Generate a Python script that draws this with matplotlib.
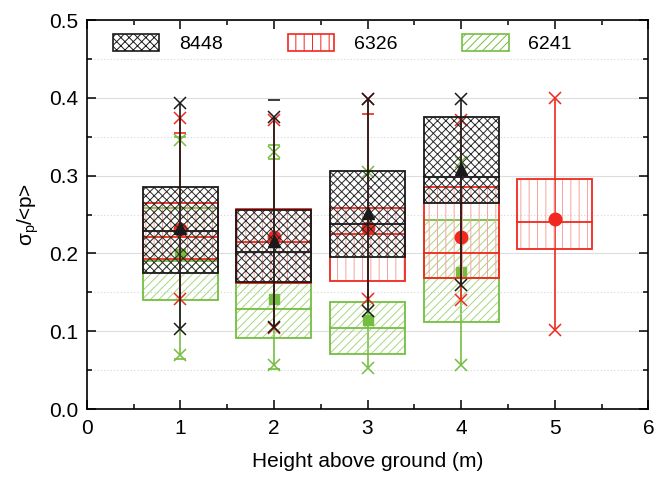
import numpy as np
import matplotlib
matplotlib.use("Agg")
import matplotlib.pyplot as plt
from matplotlib.patches import Rectangle, Patch
from matplotlib.ticker import MultipleLocator

plt.rcParams["font.family"] = ["Liberation Sans", "DejaVu Sans"]
plt.rcParams["mathtext.fontset"] = "custom"
plt.rcParams["mathtext.rm"] = "Liberation Sans"
plt.rcParams["mathtext.it"] = "Liberation Sans"
plt.rcParams["mathtext.bf"] = "Liberation Sans:bold"
plt.rcParams["hatch.linewidth"] = 0.7

# --- data (sigma_p/<p> box stats per height) ---
labels = ["8448", "6326", "6241"]

pos_8448 = [1, 2, 3, 4]
q1_8448 = [0.175, 0.163, 0.195, 0.265]
med_8448 = [0.229, 0.202, 0.238, 0.298]
q3_8448 = [0.286, 0.256, 0.306, 0.375]
mean_8448 = [0.233, 0.216, 0.252, 0.308]
lo_8448 = [0.103, 0.106, 0.126, 0.160]
hi_8448 = [0.394, 0.376, 0.399, 0.399]
dash_x_8448 = [2]
dash_y_8448 = [0.397]

pos_6326 = [1, 2, 3, 4, 5]
q1_6326 = [0.193, 0.162, 0.164, 0.169, 0.206]
med_6326 = [0.221, 0.215, 0.225, 0.200, 0.241]
q3_6326 = [0.265, 0.257, 0.259, 0.286, 0.296]
mean_6326 = [0.232, 0.221, 0.233, 0.221, 0.244]
lo_6326 = [0.141, 0.104, 0.142, 0.140, 0.102]
hi_6326 = [0.374, 0.372, 0.399, 0.372, 0.400]
dash_x_6326 = [1, 3]
dash_y_6326 = [0.355, 0.379]

pos_6241 = [1, 2, 3, 4]
q1_6241 = [0.140, 0.091, 0.071, 0.112]
med_6241 = [0.190, 0.128, 0.104, 0.169]
q3_6241 = [0.259, 0.162, 0.137, 0.243]
mean_6241 = [0.199, 0.142, 0.115, 0.176]
lo_6241 = [0.070, 0.057, 0.053, 0.057]
hi_6241 = [0.346, 0.331, 0.305, 0.317]
dash_x_6241 = [1, 1, 2, 2, 2]
dash_y_6241 = [0.350, 0.065, 0.340, 0.322, 0.051]

series = [
    dict(pos=pos_6241, q1=q1_6241, med=med_6241, q3=q3_6241, mean=mean_6241,
         lo=lo_6241, hi=hi_6241, dx=dash_x_6241, dy=dash_y_6241,
         color="#74BE3F", hcolor="#A6D67F", hatch="////", marker="s", ms=7, z=2),
    dict(pos=pos_6326, q1=q1_6326, med=med_6326, q3=q3_6326, mean=mean_6326,
         lo=lo_6326, hi=hi_6326, dx=dash_x_6326, dy=dash_y_6326,
         color="#F0281E", hcolor="#F7A49C", hatch="||", marker="o", ms=9, z=3),
    dict(pos=pos_8448, q1=q1_8448, med=med_8448, q3=q3_8448, mean=mean_8448,
         lo=lo_8448, hi=hi_8448, dx=dash_x_8448, dy=dash_y_8448,
         color="#1A1A1A", hcolor="#2A2A2A", hatch="xxxx", marker="^", ms=9, z=4),
]
width = 0.8

fig = plt.figure(figsize=(6.67, 4.79), dpi=100)
ax = fig.add_axes([0.130, 0.146, 0.842, 0.812])

for s in series:
    z = s["z"]
    for i, x in enumerate(s["pos"]):
        ax.plot([x, x], [s["lo"][i], s["hi"][i]], color=s["color"], lw=1.2, zorder=z)
        h = s["q3"][i] - s["q1"][i]
        ax.add_patch(Rectangle((x - width / 2, s["q1"][i]), width, h, facecolor="none",
                               edgecolor=s["hcolor"], hatch=s["hatch"], lw=0, zorder=z))
        ax.add_patch(Rectangle((x - width / 2, s["q1"][i]), width, h, facecolor="none",
                               edgecolor=s["color"], lw=1.3, zorder=z + 0.1))
        ax.plot([x - width / 2, x + width / 2], [s["med"][i]] * 2, color=s["color"],
                lw=1.3, zorder=z + 0.1)
    ax.plot(s["pos"], s["lo"], ls="none", marker="x", ms=8, mew=1.1, color=s["color"], zorder=z + 0.2)
    ax.plot(s["pos"], s["hi"], ls="none", marker="x", ms=8, mew=1.1, color=s["color"], zorder=z + 0.2)
    ax.plot(s["dx"], s["dy"], ls="none", marker="_", ms=9, mew=1.2, color=s["color"], zorder=z + 0.2)
    ax.plot(s["pos"], s["mean"], ls="none", marker=s["marker"], ms=s["ms"], color=s["color"],
            mec=s["color"], zorder=z + 0.3)

ax.set_xlim(0, 6)
ax.set_ylim(0, 0.5)
ax.xaxis.set_major_locator(MultipleLocator(1))
ax.xaxis.set_minor_locator(MultipleLocator(0.5))
ax.yaxis.set_major_locator(MultipleLocator(0.1))
ax.yaxis.set_minor_locator(MultipleLocator(0.05))
ax.yaxis.set_major_formatter(matplotlib.ticker.FormatStrFormatter("%.1f"))
ax.tick_params(which="both", direction="in", top=True, right=True, labelsize=15, width=1.1)
ax.tick_params(which="major", length=6.5)
ax.tick_params(which="minor", length=3.8)
ax.tick_params(axis="x", pad=7)
ax.tick_params(axis="y", pad=6)
for sp in ax.spines.values():
    sp.set_linewidth(1.2)

ax.grid(axis="y", which="major", color="#DDDDDD", lw=0.8, zorder=0)
ax.grid(axis="y", which="minor", color="#D5D5D5", lw=0.8, ls=(0, (1, 2)), zorder=0)
ax.set_axisbelow(True)

ax.set_xlabel("Height above ground (m)", fontsize=15, labelpad=10)
ax.set_ylabel("σ$_\\mathregular{p}$/<p>", fontsize=15, labelpad=6)

handles = [Patch(facecolor="none", edgecolor=s["color"], hatch=s["hatch"], lw=1.2)
           for s in series[::-1]]
ax.legend(handles, labels, ncol=3, loc="upper left", bbox_to_anchor=(0.046, 0.965),
          frameon=False, fontsize=14, handlelength=2.4, handleheight=0.95,
          handletextpad=1.0, columnspacing=3.35, borderpad=0, borderaxespad=0)

fig.savefig("out.png", dpi=100)
